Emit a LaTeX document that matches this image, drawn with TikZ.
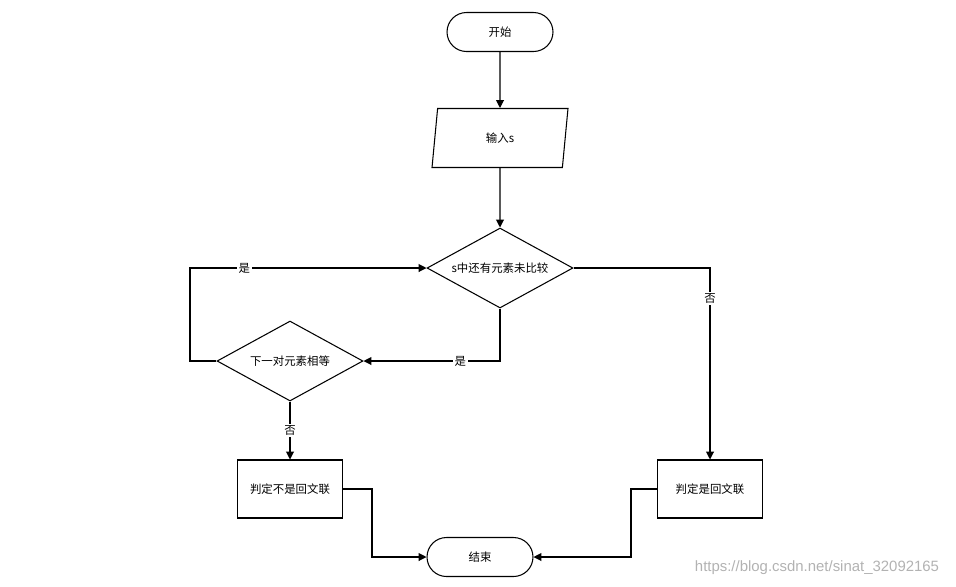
\documentclass[tikz,border=0pt]{standalone}
\usepackage{fontspec}
\newfontfamily\cjk{Noto Sans CJK SC}
\newfontfamily\wmfont{Liberation Sans}
\usepackage{tikz}
\usetikzlibrary{arrows.meta,shapes.geometric,positioning}

\begin{document}
\begin{tikzpicture}[x=0.02cm,y=-0.02cm,
  every node/.style={font=\cjk\fontsize{6.5}{8}\selectfont},
  terminal/.style={draw,line width=0.6pt,rounded corners=0.39cm,minimum width=2.12cm,minimum height=0.78cm},
  io/.style={draw,line width=0.6pt,trapezium,trapezium left angle=62,trapezium right angle=118,trapezium stretches body,minimum width=2.72cm,minimum height=1.18cm,inner sep=0pt},
  decide/.style={draw,line width=0.6pt,diamond,aspect=1.85,minimum width=2.92cm,minimum height=1.6cm,inner sep=0pt},
  process/.style={draw,line width=0.6pt,minimum width=2.1cm,minimum height=1.16cm},
  flow/.style={line width=0.6pt,-{Triangle[length=4.5pt,width=4.5pt]}},
  lbl/.style={fill=white,inner sep=1pt}]
\useasboundingbox (0,0) rectangle (956,586);
\node[terminal] (start) at (500,32) {开始};
\node[io] (input) at (500,138) {输入s};
\node[decide] (cmp) at (500,268) {s中还有元素未比较};
\node[decide] (pair) at (290,361) {下一对元素相等};
\node[process] (no) at (290,489) {判定不是回文联};
\node[process] (yes) at (710,489) {判定是回文联};
\node[terminal] (stop) at (480,557) {结束};
\coordinate (loopL) at (190,268);
\draw[flow] (start) -- (input);
\draw[flow] (input) -- (cmp);
\draw[flow] (cmp.south) |- node[lbl,pos=0.645]{是} (pair.east);
\draw[flow] (pair.west) -| (loopL) -- node[lbl,pos=0.23]{是} (cmp.west);
\draw[flow] (pair.south) -- node[lbl]{否} (no.north);
\draw[flow] (cmp.east) -| node[lbl,pos=0.58]{否} (yes.north);
\draw[flow] (no.east) -- ++(29,0) |- (stop.west);
\draw[flow] (yes.west) -- ++(-26,0) |- (stop.east);
\node[font=\wmfont\fontsize{8.5}{10}\selectfont,text=black!30] (mark) at (817,568) {https://blog.csdn.net/sinat\_32092165};
\end{tikzpicture}
\end{document}
